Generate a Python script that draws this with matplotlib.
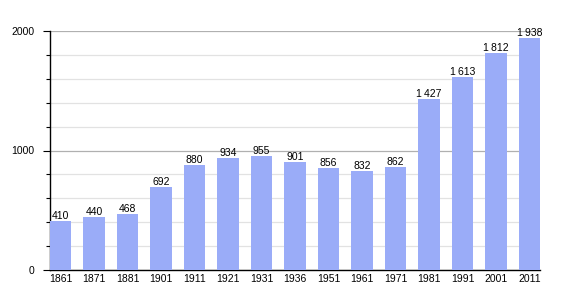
import matplotlib.pyplot as plt
import numpy as np

plt.rcParams['font.family'] = ['Liberation Sans', 'DejaVu Sans']

# data
years = ["1861", "1871", "1881", "1901", "1911", "1921", "1931", "1936",
         "1951", "1961", "1971", "1981", "1991", "2001", "2011"]
population = [410, 440, 468, 692, 880, 934, 955, 901,
              856, 832, 862, 1427, 1613, 1812, 1938]

fig = plt.figure(figsize=(5.7, 3.0), dpi=100)
ax = fig.add_axes([50 / 570, 30 / 300, 490 / 570, 239 / 300])

x = np.arange(len(years))
w = 0.63
bars = ax.bar(x, population, width=w, color="#9aacf8", zorder=3)

# value labels with thin space thousands separator
for xi, v in zip(x, population):
    txt = f"{v:,}".replace(",", "\u2009")
    ax.text(xi, v, txt, ha="center", va="bottom", fontsize=7.5, zorder=4)

ax.set_xlim(-w / 2, len(years) - 1 + w / 2)
ax.set_ylim(0, 2000)
ax.set_xticks(x)
ax.set_xticklabels(years, fontsize=7.5)
ax.set_yticks([0, 1000, 2000])
ax.set_yticklabels(["0", "1000", "2000"], fontsize=7.5)
ax.set_yticks(np.arange(0, 2001, 200), minor=True)

ax.grid(axis="y", which="major", color="#b0b0b0", linewidth=0.9, zorder=0)
ax.grid(axis="y", which="minor", color="#e2e2e2", linewidth=0.9, zorder=0)

ax.tick_params(axis="x", length=0, pad=3)
ax.tick_params(axis="y", which="major", length=5, width=0.8, pad=6)
ax.tick_params(axis="y", which="minor", length=3, width=0.8)

for s in ["top", "right"]:
    ax.spines[s].set_visible(False)
ax.spines["left"].set_linewidth(1.0)
ax.spines["bottom"].set_linewidth(1.0)

plt.savefig("out.png", dpi=100)
